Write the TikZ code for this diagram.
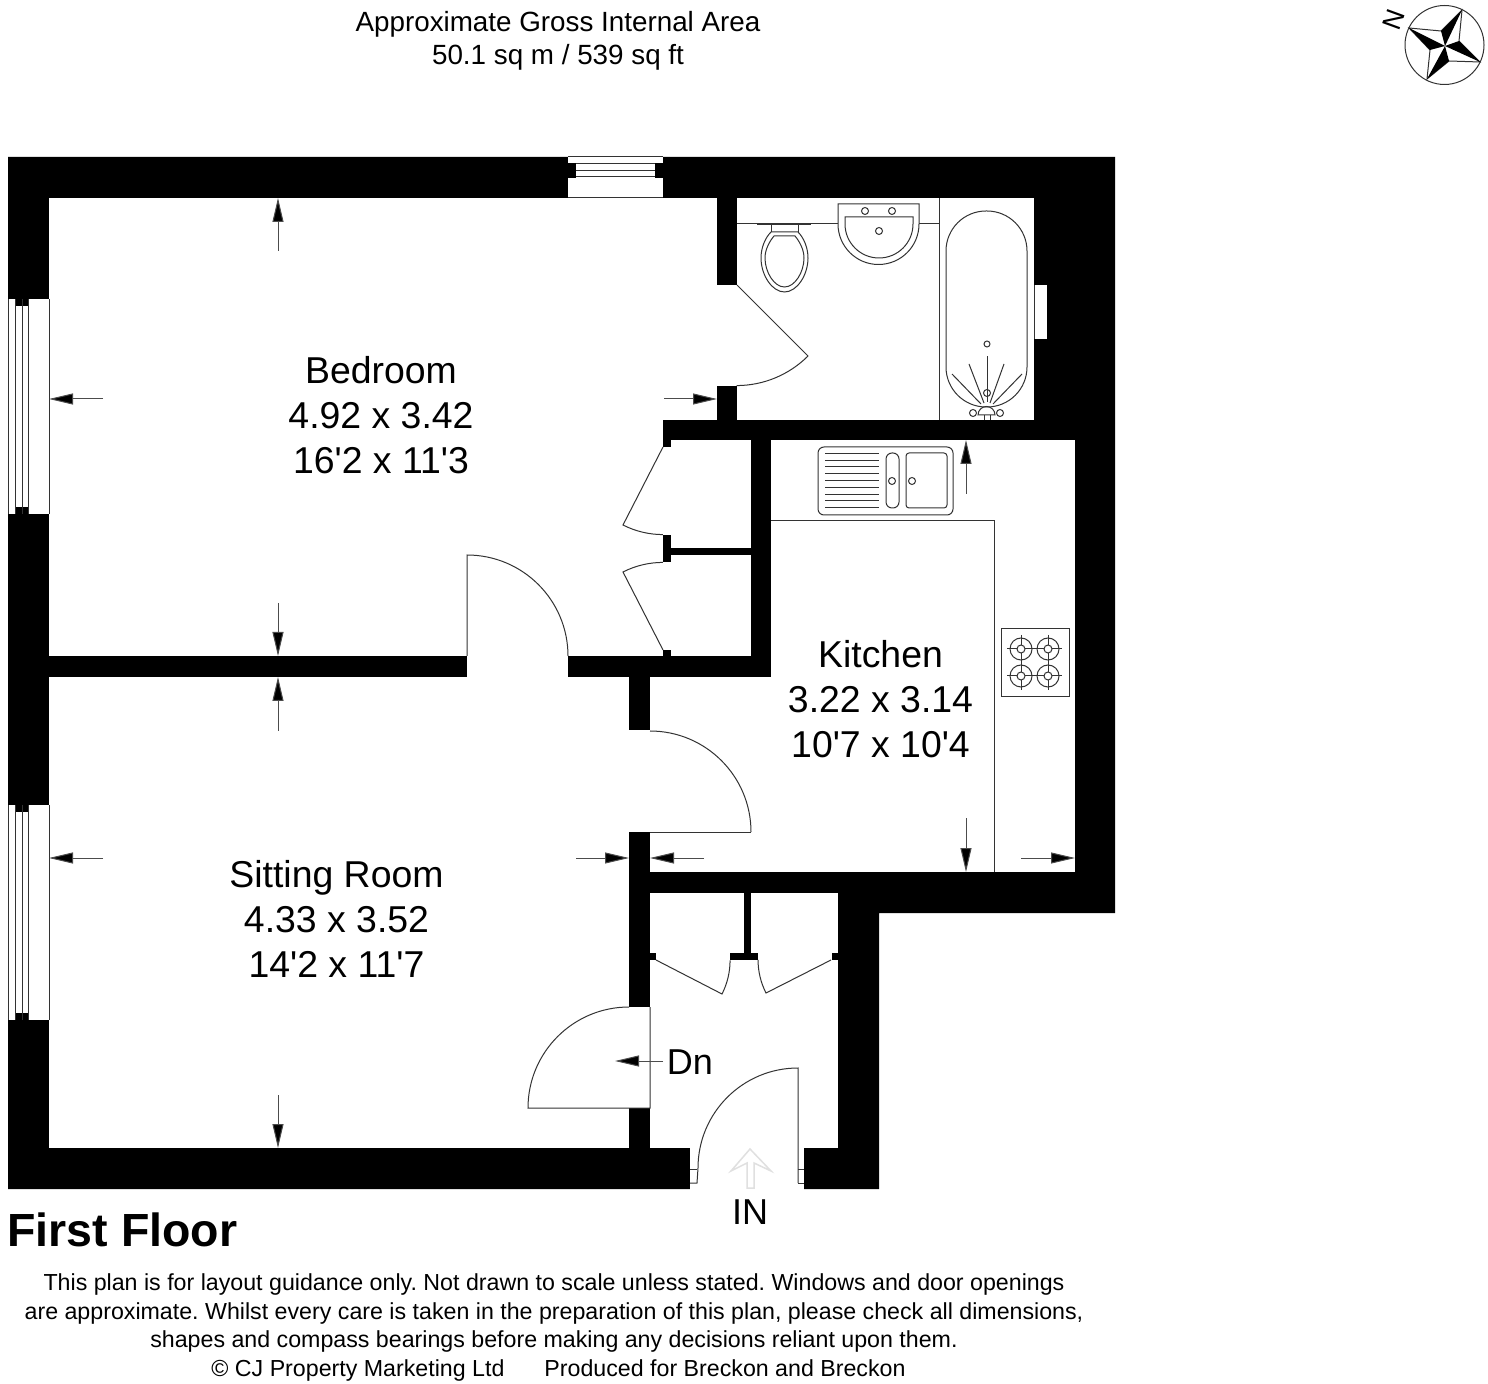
\documentclass[tikz,border=0pt]{standalone}
\usepackage{fontspec}
\setmainfont{Liberation Sans}
\usetikzlibrary{arrows.meta}
\tikzset{
  wallfill/.style={fill=black, draw=none},
  roomfill/.style={fill=white, draw=none},
  thinline/.style={draw=black!80, line width=0.5pt},
  dimarrow/.style={draw=black!70, line width=0.5pt, -{Triangle[length=12pt,width=5.5pt,fill=black]}},
  roomlabel/.style={align=center, font=\fontsize{18.7}{22.6}\selectfont},
}
\begin{document}
\frenchspacing
\begin{tikzpicture}[x=0.5pt,y=-0.5pt]
\useasboundingbox (0,0) rectangle (1488,1384);
\fill[white] (0,0) rectangle (1488,1384);
% walls
\fill[wallfill] (8,157) -- (1115,157) -- (1115,913) -- (879,913) -- (879,1189) -- (804,1189)
  -- (804,1189) -- (690,1189) -- (8,1189) -- cycle;
% rooms and door gaps
\foreach \xa/\ya/\xb/\yb in {49/198/717/420, 49/420/663/656, 663/440/751/548, 663/555/751/656,
  717/285/737/386, 737/198/1034/420, 467/656/568/677, 49/677/629/1148, 629/730/650/832,
  771/440/1075/872, 650/677/771/872, 650/893/838/1148, 629/1007/650/1108, 690/1148/804/1191}
  \fill[roomfill] (\xa,\ya) rectangle (\xb,\yb);
% stubs and thin walls
\foreach \xa/\ya/\xb/\yb in {663/440/671/447, 663/535/671/562, 671/548/751/555, 663/650/671/656,
  650/953/656/960, 730/953/758/960, 832/953/838/960, 744/893/751/953}
  \fill[wallfill] (\xa,\ya) rectangle (\xb,\yb);
% windows on the left
\foreach \ya/\yb in {299/514, 805/1020} {
  \fill[roomfill] (7,\ya) rectangle (49,\yb);
  \fill[wallfill] (15,\ya) rectangle (28,\ya+7);
  \fill[wallfill] (15,\yb-7) rectangle (28,\yb);
  \foreach \xa in {8,15,22,28,49}
    \draw[thinline] (\xa,\ya+0) -- (\xa,\yb);
}
% window on the top
\fill[roomfill] (568,156) rectangle (663,198);
\fill[wallfill] (568,163) rectangle (576,178);
\fill[wallfill] (655,163) rectangle (663,178);
\foreach \ya in {157,198}
  \draw[thinline] (568,\ya) -- (663,\ya);
\foreach \ya in {164,171,177}
  \draw[thinline] (576,\ya) -- (655,\ya);
% window of the bathroom
\fill[roomfill] (1034,285) rectangle (1047,339);
\draw[thinline] (1034,285) -- (1034,339);
% doors
\draw[thinline] (737,285) -- (808,356) arc[start angle=45,end angle=90,radius=101];
\draw[thinline] (663,447) -- (623,525) arc[start angle=117,end angle=90,radius=88];
\draw[thinline] (663,650) -- (623,572) arc[start angle=243,end angle=270,radius=88];
\draw[thinline] (467,656) -- (467,555) arc[start angle=-90,end angle=0,radius=101];
\draw[thinline] (751,832) -- (650,832);
\draw[thinline] (650,731) arc[start angle=-90,end angle=0,radius=101];
\draw[thinline] (650,1007) -- (650,1108) -- (528,1108) arc[start angle=180,end angle=270,radius=101];
\draw[thinline] (656,960) -- (722,994) arc[start angle=27,end angle=0,radius=74];
\draw[thinline] (831,960) -- (766,993) arc[start angle=153,end angle=180,radius=73];
\draw[thinline] (798,1183) -- (798,1068) arc[start angle=270,end angle=180,radius=100] -- (697,1183) -- (690,1183);
\draw[thinline] (690,1169) -- (697,1169);
\draw[thinline] (798,1169) -- (804,1169);
\draw[thinline] (798,1183) -- (804,1183);
% entrance arrow
\draw[black!12, line width=0.75pt, fill=white] (747,1188) -- (747,1163) -- (731,1171) -- (750,1149)
  -- (771,1171) -- (754,1163) -- (754,1188) -- cycle;
% bathroom
\draw[thinline] (939,198) -- (939,420);
\draw[thinline] (737,224) -- (838,224);
\draw[thinline] (919,224) -- (939,224);
\draw[thinline, line width=0.75pt] (757,224) -- (811,224);
\draw[thinline] (771,224) -- (771,232);
\draw[thinline] (798,224) -- (798,232);
\draw[thinline] (771,232) -- (798,232) .. controls (804,238) and (808,248) .. (808,258)
  .. controls (808,275) and (797,292) .. (784.5,292) .. controls (772,292) and (761,275) .. (761,258)
  .. controls (761,248) and (765,238) .. (771,232) -- cycle;
\draw[thinline] (774,236) -- (795,236) .. controls (800,242) and (804,250) .. (804,258)
  .. controls (804,272) and (795,287) .. (784.5,287) .. controls (774,287) and (765,272) .. (765,258)
  .. controls (765,250) and (769,242) .. (774,236) -- cycle;
\draw[thinline] (838,204) -- (919,204) -- (919,224) arc[start angle=0,end angle=180,radius=40.5] -- cycle;
\draw[thinline] (845,217) -- (913,217) -- (913,224) arc[start angle=0,end angle=180,radius=34] -- cycle;
\foreach \xa/\ya in {865/211, 892/211, 879/231, 973/413, 1000/413, 987/393}
  \draw[thinline] (\xa,\ya) circle[radius=3.5];
\draw[thinline] (987,344) circle[radius=3];
\draw[thinline, rounded corners=20pt] (946,211) rectangle (1027,407);
\foreach \xa/\ya/\xb/\yb in {981/404/952/374, 984/403/969/364, 987/402/987/356, 990/403/1004/364, 993/404/1022/374}
  \draw[thinline] (\xa,\ya) -- (\xb,\yb);
\draw[thinline] (978,415) arc[start angle=180,end angle=360,radius=8.5] -- cycle;
\draw[thinline] (984,415) -- (984,420);
\draw[thinline] (990,415) -- (990,420);
% kitchen
\draw[thinline] (771,521) -- (994,521) -- (994,872);
\draw[thinline, rounded corners=3pt] (818,447) rectangle (953,515);
\foreach \ya in {454,461,467,474,481,488,495,501,508}
  \draw[thinline] (825,\ya) -- (879,\ya);
\draw[thinline, rounded corners=3pt] (886,453) rectangle (899,508);
\draw[thinline, rounded corners=1.5pt] (906,453) rectangle (947,508);
\draw[thinline] (892,481) circle[radius=3.5];
\draw[thinline] (912,481) circle[radius=3.5];
\draw[thinline] (1001,629) rectangle (1069,697);
\foreach \xa/\ya in {1021/649, 1048/649, 1021/676, 1048/676} {
  \draw[thinline] (\xa,\ya) circle[radius=11];
  \draw[thinline] (\xa,\ya) circle[radius=4];
  \draw[thinline] (\xa-14,\ya) -- (\xa-4,\ya);
  \draw[thinline] (\xa+4,\ya) -- (\xa+14,\ya);
  \draw[thinline] (\xa,\ya-14) -- (\xa,\ya-4);
  \draw[thinline] (\xa,\ya+4) -- (\xa,\ya+14);
}
% dimension arrows
\foreach \xa/\ya/\xb/\yb in {278/251/278/198, 278/603/278/656, 103/399/49/399, 664/399/717/399,
  278/731/278/677, 278/1095/278/1148, 103/858/49/858, 576/858/629/858,
  966/494/966/440, 966/818/966/872, 1021/858/1075/858, 704/858/650/858, 663/1061/615/1061}
  \draw[dimarrow] (\xa,\ya) -- (\xb,\yb);
% compass
\draw[thinline] (1444.5,45) circle[radius=39.5];
\draw[thinline] (1462,10) -- (1459,41) -- (1480,62) -- (1449,61) -- (1427,79) -- (1430,50) -- (1409,28) -- (1441,31) -- cycle;
\foreach \xa/\ya/\xb/\yb in {1462/10/1441/31, 1480/62/1459/41, 1427/79/1449/61, 1409/28/1430/50}
  \fill[black] (\xa,\ya) -- (\xb,\yb) -- (1445,46) -- cycle;
\node[rotate=-110, inner sep=0pt, font=\fontsize{13.3}{16}\selectfont] (northlabel) at (1394,20) {N};
% texts
\node[align=center, font=\fontsize{13.9}{16.5}\selectfont] (arealabel) at (558,40.5) {Approximate Gross Internal Area\\50.1 sq m / 539 sq ft};
\node[roomlabel] (bedroomlabel) at (381,415) {Bedroom\\4.92 x 3.42\\16\textquotesingle2 x 11\textquotesingle3};
\node[roomlabel] (kitchenlabel) at (880.5,699) {Kitchen\\3.22 x 3.14\\10\textquotesingle7 x 10\textquotesingle4};
\node[roomlabel] (sittinglabel) at (336.5,919) {Sitting Room\\4.33 x 3.52\\14\textquotesingle2 x 11\textquotesingle7};
\node[font=\fontsize{18}{22}\selectfont] (dnlabel) at (690,1062) {Dn};
\node[font=\fontsize{18}{22}\selectfont] (inlabel) at (750,1212) {IN};
\node[anchor=west, inner sep=0pt, font=\fontsize{23.25}{28}\selectfont\bfseries] (floorlabel) at (7,1230) {First Floor};
\node[align=center, font=\fontsize{11.6}{14.35}\selectfont] (noticelabel) at (554,1327.5) {This plan is for layout guidance only. Not drawn to scale unless stated. Windows and door openings\\are approximate. Whilst every care is taken in the preparation of this plan, please check all dimensions,\\shapes and compass bearings before making any decisions reliant upon them.\\\hspace{4.5pt}\copyright{} CJ Property Marketing Ltd\hspace{20pt}Produced for Breckon and Breckon};
\end{tikzpicture}
\end{document}
